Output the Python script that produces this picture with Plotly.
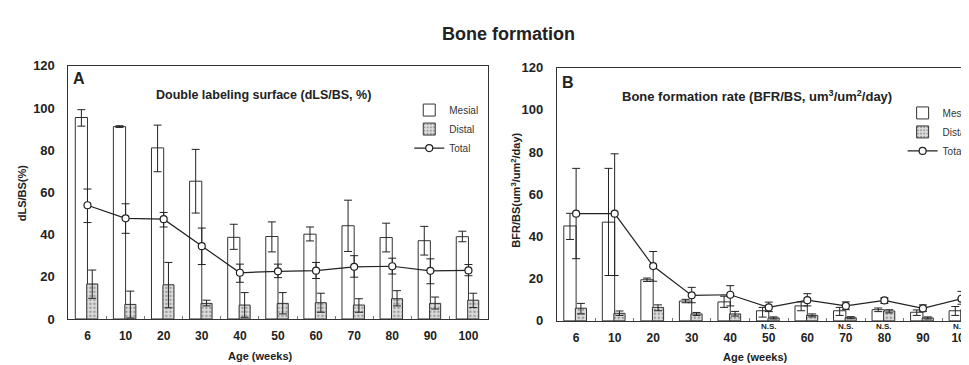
import plotly.graph_objects as go

ages = ["6", "10", "20", "30", "40", "50", "60", "70", "80", "90", "100"]

# Panel A: double labeling surface (dLS/BS, %)
dls_mesial = [95.5, 91.2, 81.1, 65.3, 38.7, 39.1, 40.2, 44.2, 38.6, 37.1, 39.0]
dls_mesial_hi = [99.2, 91.6, 91.9, 80.4, 44.9, 46.0, 43.6, 56.3, 45.4, 43.9, 41.6]
dls_mesial_lo = [91.4, 90.8, 69.8, 50.2, 33.0, 31.8, 37.0, 32.0, 31.8, 30.3, 36.6]
dls_distal = [16.6, 6.9, 16.2, 7.4, 6.6, 7.4, 7.7, 6.6, 9.6, 7.4, 8.9]
dls_distal_hi = [23.2, 13.2, 26.8, 8.9, 12.5, 12.5, 12.2, 9.6, 13.4, 10.4, 12.2]
dls_distal_lo = [9.8, 0.5, 5.3, 6.2, 0.8, 2.4, 3.2, 3.2, 6.2, 4.7, 5.4]
dls_total = [53.9, 47.7, 47.3, 34.5, 21.9, 22.6, 22.9, 24.7, 25.0, 22.8, 23.0]
dls_total_hi = [61.6, 54.6, 50.5, 43.1, 26.0, 26.0, 26.8, 30.0, 28.8, 28.5, 25.8]
dls_total_lo = [45.7, 40.6, 43.6, 25.8, 17.4, 19.6, 19.2, 19.8, 21.3, 16.7, 20.5]

# Panel B: bone formation rate (BFR/BS)
bfr_mesial = [45.0, 46.8, 19.5, 9.4, 9.0, 4.8, 7.1, 4.8, 5.3, 4.1, 4.8]
bfr_mesial_hi = [51.0, 72.3, 20.3, 10.2, 11.7, 6.4, 9.0, 6.4, 6.1, 5.2, 6.8]
bfr_mesial_lo = [38.6, 21.5, 18.7, 8.6, 6.4, 1.8, 4.8, 2.6, 4.4, 2.6, 2.6]
bfr_distal = [6.0, 3.6, 6.4, 3.3, 3.3, 1.4, 2.6, 1.5, 4.7, 1.4, 5.3]
bfr_distal_hi = [8.3, 4.7, 7.6, 4.0, 4.5, 1.9, 3.3, 2.0, 5.3, 1.9, 7.1]
bfr_distal_lo = [3.3, 2.6, 4.8, 2.6, 2.3, 0.9, 1.9, 1.0, 3.8, 0.9, 3.3]
bfr_total = [50.8, 50.8, 26.0, 12.1, 12.4, 6.4, 9.8, 7.1, 9.7, 5.9, 10.5]
bfr_total_hi = [72.3, 79.2, 32.9, 15.9, 16.7, 8.9, 12.9, 9.0, 10.9, 7.6, 14.0]
bfr_total_lo = [29.5, 21.5, 18.8, 8.6, 7.1, 4.4, 7.1, 5.3, 8.3, 4.4, 7.9]

ns_ages = ["50", "70", "80", "100"]

FONT = "Arial, 'Liberation Sans', sans-serif"
INK = "#222222"
EDGE = "#333333"


def err(v, hi, lo):
    return dict(type="data", symmetric=False,
                array=[h - a for a, h in zip(v, hi)],
                arrayminus=[a - l for a, l in zip(v, lo)],
                color=INK, thickness=1, width=4)


fig = go.Figure()


def add_panel(xa, ya, leg, mes, mes_hi, mes_lo, dis, dis_hi, dis_lo, tot, tot_hi, tot_lo):
    fig.add_trace(go.Bar(
        x=ages, y=mes, name="Mesial", xaxis=xa, yaxis=ya, legend=leg,
        offset=-0.32, width=0.32,
        marker=dict(color="white", line=dict(color=EDGE, width=1)),
        error_y=err(mes, mes_hi, mes_lo)))
    fig.add_trace(go.Bar(
        x=ages, y=dis, name="Distal", xaxis=xa, yaxis=ya, legend=leg,
        offset=-0.02, width=0.29,
        marker=dict(color="#d9d9d9", line=dict(color=EDGE, width=1),
                    pattern=dict(shape=".", fgcolor="#555555", bgcolor="#dcdcdc",
                                 size=4, solidity=0.3)),
        error_y=err(dis, dis_hi, dis_lo)))
    fig.add_trace(go.Scatter(
        x=ages, y=tot, name="Total", xaxis=xa, yaxis=ya, legend=leg,
        mode="lines+markers",
        line=dict(color=INK, width=1.2),
        marker=dict(symbol="circle", size=7, color="white",
                    line=dict(color=INK, width=1.2)),
        error_y=err(tot, tot_hi, tot_lo)))


add_panel("x", "y", "legend", dls_mesial, dls_mesial_hi, dls_mesial_lo,
          dls_distal, dls_distal_hi, dls_distal_lo, dls_total, dls_total_hi, dls_total_lo)
add_panel("x2", "y2", "legend2", bfr_mesial, bfr_mesial_hi, bfr_mesial_lo,
          bfr_distal, bfr_distal_hi, bfr_distal_lo, bfr_total, bfr_total_hi, bfr_total_lo)

W, H = 969, 365


def px_x(p):
    return p / W


def px_y(p):
    return 1 - p / H


xcommon = dict(type="category", showgrid=False, zeroline=False, showline=True,
               linecolor=EDGE, linewidth=1, ticks="inside", ticklen=3, tickcolor="#777",
               tickson="boundaries", ticklabelstandoff=6,
               tickfont=dict(family=FONT, size=12, color=INK, weight="bold"))
ycommon = dict(range=[0, 120], tickvals=[0, 20, 40, 60, 80, 100, 120],
               showgrid=False, zeroline=False, showline=True, linecolor=EDGE, linewidth=1,
               ticks="", ticklabelstandoff=10,
               tickfont=dict(family=FONT, size=13, color=INK, weight="bold"))

fig.update_layout(
    width=W, height=H,
    margin=dict(l=0, r=0, t=0, b=0),
    paper_bgcolor="white", plot_bgcolor="white",
    barmode="overlay",
    font=dict(family=FONT, color=INK),
    xaxis=dict(domain=[px_x(61), px_x(484)], range=[-0.5, 10.5], mirror=True, anchor="y", **xcommon),
    yaxis=dict(domain=[px_y(317), px_y(53)], mirror=True, anchor="x", **ycommon),
    xaxis2=dict(domain=[px_x(554), 1.0], range=[-0.5, 10.17], mirror=True, anchor="y2", **xcommon),
    yaxis2=dict(domain=[px_y(319), px_y(55)], mirror=False, anchor="x2", **ycommon),
    legend=dict(x=px_x(405), y=px_y(84), xanchor="left", yanchor="top",
                bgcolor="rgba(0,0,0,0)", font=dict(family=FONT, size=10, color="#333"),
                tracegroupgap=0, itemwidth=30),
    legend2=dict(x=px_x(903), y=px_y(87), xanchor="left", yanchor="top",
                 bgcolor="rgba(0,0,0,0)", font=dict(family=FONT, size=10, color="#333"),
                 tracegroupgap=0, itemwidth=30),
    showlegend=True,
)

ann = [
    dict(text="<b>Bone formation</b>", x=px_x(505), y=px_y(20), font=dict(size=18)),
    dict(text="<b>A</b>", x=px_x(72), y=px_y(66), font=dict(size=16)),
    dict(text="<b>B</b>", x=px_x(565), y=px_y(70), font=dict(size=16)),
    dict(text="<b>Double labeling surface (dLS/BS, %)</b>", x=px_x(147), y=px_y(83),
         xanchor="left", font=dict(size=12.5)),
    dict(text="<b>Bone formation rate (BFR/BS, um<sup>3</sup>/um<sup>2</sup>/day)</b>",
         x=px_x(618), y=px_y(84), xanchor="left", font=dict(size=13)),
    dict(text="<b>dLS/BS(%)</b>", x=px_x(15), y=px_y(185), textangle=-90, font=dict(size=11)),
    dict(text="<b>BFR/BS(um<sup>3</sup>/um<sup>2</sup>/day)</b>", x=px_x(513), y=px_y(183),
         textangle=-90, font=dict(size=11)),
    dict(text="<b>Age (weeks)</b>", x=px_x(255), y=px_y(356), font=dict(size=11)),
    dict(text="<b>Age (weeks)</b>", x=px_x(755), y=px_y(357), font=dict(size=11)),
]
for a in ann:
    a.setdefault("xanchor", "center")
    fig.add_annotation(xref="paper", yref="paper", showarrow=False, yanchor="middle",
                       font=dict(family=FONT, color=INK, **a.pop("font")), **a)

for age in ns_ages:
    fig.add_annotation(xref="x2", yref="paper", x=ages.index(age), y=px_y(325),
                       text="<b>N.S.</b>", showarrow=False, yanchor="middle",
                       font=dict(family=FONT, size=8, color=INK))

fig.write_html("out.html")
